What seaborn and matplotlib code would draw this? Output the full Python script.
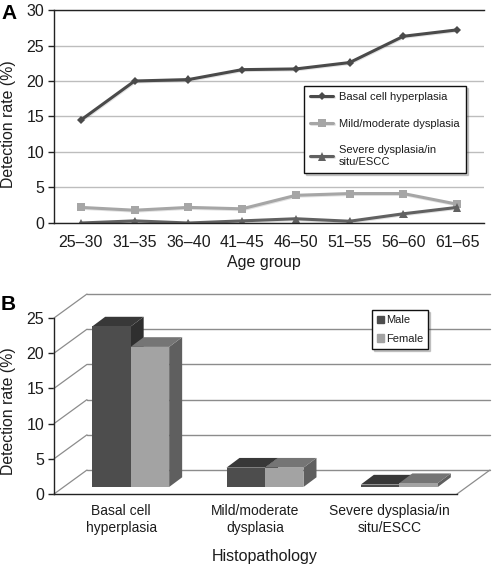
import matplotlib
matplotlib.use("Agg")
import matplotlib.patheffects as pe
import pandas as pd
import seaborn as sns
from matplotlib import pyplot as plt
from matplotlib.patches import Patch, Polygon

age_groups = ["25–30", "31–35", "36–40", "41–45", "46–50", "51–55", "56–60", "61–65"]
basal = [14.5, 20.0, 20.2, 21.6, 21.7, 22.6, 26.3, 27.2]
mild = [2.2, 1.8, 2.2, 2.0, 3.9, 4.15, 4.15, 2.65]
severe = [0.0, 0.3, 0.0, 0.3, 0.6, 0.25, 1.3, 2.2]

histology = ["Basal cell\nhyperplasia", "Mild/moderate\ndysplasia", "Severe dysplasia/in\nsitu/ESCC"]
male = [22.8, 2.75, 0.35]
female = [19.9, 2.75, 0.55]

W, H = 492, 564
TEXT = "#1c1c1c"

sns.set_theme(style="white")
plt.rcParams["font.family"] = ["Liberation Sans", "DejaVu Sans"]
plt.rcParams["text.color"] = TEXT
plt.rcParams["axes.labelcolor"] = TEXT
plt.rcParams["xtick.color"] = TEXT
plt.rcParams["ytick.color"] = TEXT


def px_axes(fig, left, top, right, bottom):
    # axes placed by pixel edges measured from the top left corner
    return fig.add_axes([left / W, 1 - bottom / H, (right - left) / W, (bottom - top) / H])


fig = plt.figure(figsize=(W / 100, H / 100), dpi=100, facecolor="white")

# panel A
ax = px_axes(fig, 54, 10, 484, 223)
series = [
    ("Basal cell hyperplasia", basal, "#4a4a4a", "D", 4.2),
    ("Mild/moderate dysplasia", mild, "#a6a6a6", "s", 5.8),
    ("Severe dysplasia/in\nsitu/ESCC", severe, "#616161", "^", 6),
]
for name, values, color, marker, size in series:
    sns.lineplot(x=age_groups, y=values, ax=ax, color=color, marker=marker, markersize=size,
                 markeredgewidth=0, linewidth=2.2, label=name, sort=False, errorbar=None,
                 path_effects=[pe.SimpleLineShadow(offset=(0.5, -0.7), alpha=0.12), pe.Normal()])
ax.set_xlim(-0.5, 7.5)
ax.set_ylim(0, 30)
ax.set_yticks(range(0, 31, 5))
ax.set_xticks([i - 0.5 for i in range(9)], minor=True)
ax.tick_params(axis="x", which="major", length=0, labelsize=11.5, pad=9)
ax.tick_params(axis="x", which="minor", length=4, width=1, color="#222222", direction="out")
ax.tick_params(axis="y", length=4, width=1, color="#222222", labelsize=11.5, pad=3, left=True)
ax.grid(axis="y", color="#bdbdbd", linewidth=1)
ax.set_axisbelow(True)
ax.spines["right"].set_visible(False)
for side in ["left", "bottom", "top"]:
    ax.spines[side].set_color("#222222")
    ax.spines[side].set_linewidth(1)
ax.set_xlabel("Age group", fontsize=11.5)
ax.xaxis.set_label_coords(0.488, -0.148)
ax.set_ylabel("Detection rate (%)", fontsize=11.4)
ax.yaxis.set_label_coords(-0.088, 0.465)
leg = ax.legend(loc="upper left", bbox_to_anchor=(250 / 430, 1 - 76 / 213), frameon=True, fancybox=False,
                shadow={"ox": 1.5, "oy": -1.5, "alpha": 0.25, "color": "#444444"}, edgecolor="#111111", framealpha=1,
                fontsize=8.0, labelspacing=1.5, borderpad=0.55, handlelength=2.1, handletextpad=0.5,
                borderaxespad=0)
leg.get_frame().set_linewidth(1)
fig.text(1 / W, 1 - 19 / H, "A", fontsize=15, fontweight="bold", color="black")

# panel B: back wall, front axis, then the bars in their own shifted axes
DEPTH_X, DEPTH_Y = 33, 24
back = px_axes(fig, 54 + DEPTH_X, 318 - DEPTH_Y, 457 + DEPTH_X, 494 - DEPTH_Y)
back.set_ylim(0, 25)
back.set_yticks(range(0, 26, 5))
back.set_xticks([])
back.tick_params(axis="y", length=0, labelleft=False)
back.grid(axis="y", color="#8c8c8c", linewidth=1)
for line in back.get_ygridlines():
    line.set_clip_on(False)
back.set_frame_on(False)

front = px_axes(fig, 54, 318, 457, 494)
front.patch.set_visible(False)
front.set_xlim(-0.5, 2.5)
front.set_ylim(0, 25)
front.set_yticks(range(0, 26, 5))
front.set_xticks(range(3))
front.set_xticklabels(histology, fontsize=10, linespacing=1.3)
front.set_xticks([i - 0.5 for i in range(4)], minor=True)
front.tick_params(axis="x", which="major", length=0, pad=7)
front.tick_params(axis="x", which="minor", length=4, width=1, color="#222222", direction="out")
front.tick_params(axis="y", length=4, width=1, color="#222222", labelsize=11.5, pad=3, left=True)
for side in ["top", "right"]:
    front.spines[side].set_visible(False)
for side in ["left", "bottom"]:
    front.spines[side].set_color("#222222")
    front.spines[side].set_linewidth(1)
front.set_xlabel("Histopathology", fontsize=11.5)
front.xaxis.set_label_coords(0.524, -0.31)
front.set_ylabel("Detection rate (%)", fontsize=11.4)
front.yaxis.set_label_coords(-0.094, 0.472)

x_per_px = 3 / (457 - 54)
y_per_px = 25 / (494 - 318)
for tick in range(0, 26, 5):
    front.plot([-0.5, -0.5 + DEPTH_X * x_per_px], [tick, tick + DEPTH_Y * y_per_px],
               color="#8c8c8c", linewidth=0.9, clip_on=False)
front.plot([2.5, 2.5 + DEPTH_X * x_per_px], [0, DEPTH_Y * y_per_px], color="#8c8c8c", linewidth=0.9, clip_on=False)

bar_ax = px_axes(fig, 54 + 9.5, 318 - 7, 457 + 9.5, 494 - 7)
bars = pd.DataFrame({
    "histology": histology * 2,
    "rate": male + female,
    "sex": ["Male"] * 3 + ["Female"] * 3,
})
front_colors = {"Male": "#4d4d4d", "Female": "#a3a3a3"}
top_colors = ["#383838", "#757575"]
side_colors = ["#2f2f2f", "#5f5f5f"]
sns.barplot(data=bars, x="histology", y="rate", hue="sex", palette=front_colors, ax=bar_ax, width=0.573,
            gap=0, saturation=1, legend=False, errorbar=None, linewidth=0)
bar_ax.set_xlim(-0.5, 2.5)
bar_ax.set_ylim(0, 25)
bar_ax.axis("off")
dx, dy = 13 * x_per_px, 9.7 * y_per_px
for i, patch in enumerate(list(bar_ax.patches)):
    level = i // 3
    x0, y0 = patch.get_x(), patch.get_y()
    x1, y1 = x0 + patch.get_width(), y0 + patch.get_height()
    patch.set_zorder(3 + 2 * level)
    bar_ax.add_patch(Polygon([(x1, y0), (x1 + dx, y0 + dy), (x1 + dx, y1 + dy), (x1, y1)], closed=True,
                             facecolor=side_colors[level], edgecolor="none", zorder=2 + 2 * level, clip_on=False))
    bar_ax.add_patch(Polygon([(x0, y1), (x0 + dx, y1 + dy), (x1 + dx, y1 + dy), (x1, y1)], closed=True,
                             facecolor=top_colors[level], edgecolor="none", zorder=2 + 2 * level, clip_on=False))

handles = [Patch(color=front_colors["Male"], label="Male"), Patch(color=front_colors["Female"], label="Female")]
leg_b = bar_ax.legend(handles=handles, loc="upper left", bbox_to_anchor=((372 - 63.5) / 403, 1 - (310 - 311) / 176),
                      frameon=True, fancybox=False, edgecolor="#111111", framealpha=1, borderaxespad=0,
                      shadow={"ox": 1.5, "oy": -1.5, "alpha": 0.25, "color": "#444444"},
                      fontsize=8, labelspacing=0.8, borderpad=0.45, handlelength=0.6, handleheight=0.6,
                      handletextpad=0.2)
leg_b.get_frame().set_linewidth(1)
leg_b.set_zorder(10)
fig.text(1 / W, 1 - 310 / H, "B", fontsize=15, fontweight="bold", color="black")

fig.savefig("out.png", dpi=100, facecolor="white")
